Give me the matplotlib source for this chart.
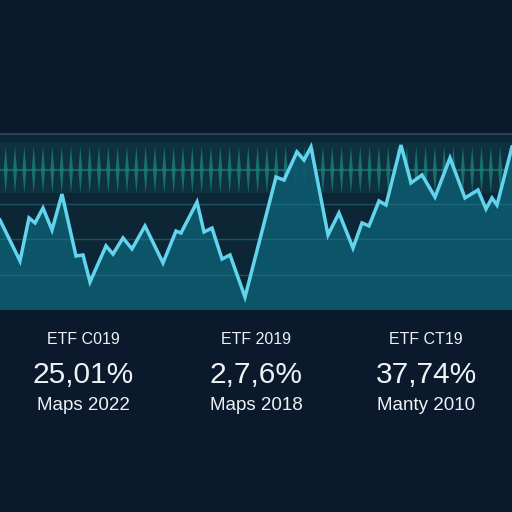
import numpy as np
import matplotlib
matplotlib.use("Agg")
import matplotlib.pyplot as plt

# price line (x position 0-512, value 0-100 in panel units)
line_x = [0, 20, 29, 35, 43, 52, 62, 76, 83, 90, 106, 113, 123, 132, 145, 163,
          176, 181, 197, 204, 212, 222, 230, 245, 276, 284, 297, 304, 311, 328,
          339, 353, 362, 369, 379, 386, 401, 411, 422, 435, 450, 465, 478, 486,
          492, 497, 512]
line_y = [50.8, 27.7, 52.0, 49.2, 57.6, 45.2, 65.5, 30.5, 31.1, 15.8, 36.2, 31.6,
          40.7, 34.5, 47.5, 26.6, 44.6, 43.5, 61.0, 44.1, 46.3, 28.8, 31.1, 7.3,
          75.1, 73.4, 89.3, 84.7, 92.1, 42.4, 54.8, 35.0, 49.2, 47.5, 61.6, 59.3,
          93.2, 71.8, 76.3, 63.8, 85.9, 63.3, 67.8, 57.1, 63.3, 59.3, 92.1]

headers = ["ETF C019", "ETF 2019", "ETF CT19"]
values = ["25,01%", "2,7,6%", "37,74%"]
subtitles = ["Maps 2022", "Maps 2018", "Manty 2010"]

bg = "#0a192b"
panel = "#0c2636"
fill_col = "#0d576b"
line_col = "#62d4ee"
wave_col = "#1b8580"
txt = "#eef2f5"

fig = plt.figure(figsize=(5.12, 5.12), dpi=100, facecolor=bg)

# chart panel
ax = fig.add_axes([0, (512 - 310) / 512, 1, 177 / 512])
ax.set_facecolor(panel)
ax.set_xlim(0, 512)
ax.set_ylim(0, 100)
for s in ax.spines.values():
    s.set_visible(False)
ax.set_xticks([])
ax.set_yticks([])

# decorative oscillation band
ax.axhspan(66, 95, color="#0e3140", zorder=0.5, lw=0)
ax.axhline(79, color=wave_col, lw=1.5, alpha=0.6, zorder=1)
for cx in np.arange(5.7, 512, 9.33):
    ax.fill([cx - 2.0, cx, cx + 2.0, cx], [79, 92.5, 79, 66],
            color=wave_col, alpha=0.75, lw=0, zorder=1)

ax.fill_between(line_x, line_y, 0, color=fill_col, lw=0, zorder=2, alpha=0.95)

for gy in [20, 40, 60]:
    ax.axhline(gy, color="#2f7a8c", lw=1, alpha=0.5, zorder=3)
ax.axhline(99.6, color="#22435a", lw=1.5, zorder=3)

ax.plot(line_x, line_y, color=line_col, lw=2.5, zorder=4,
        solid_joinstyle="miter")

# stats below the chart
cols = [83, 256, 426]
font = ["Liberation Sans", "DejaVu Sans"]
for cx, h, v, s in zip(cols, headers, values, subtitles):
    fig.text(cx / 512, 1 - 340 / 512, h, color=txt, fontsize=11.5,
             family=font, ha="center", va="center")
    fig.text(cx / 512, 1 - 375 / 512, v, color=txt, fontsize=21.5,
             family=font, ha="center", va="center")
    fig.text(cx / 512, 1 - 405 / 512, s, color=txt, fontsize=13.5,
             family=font, ha="center", va="center")

fig.savefig("out.png", dpi=100, facecolor=bg)
